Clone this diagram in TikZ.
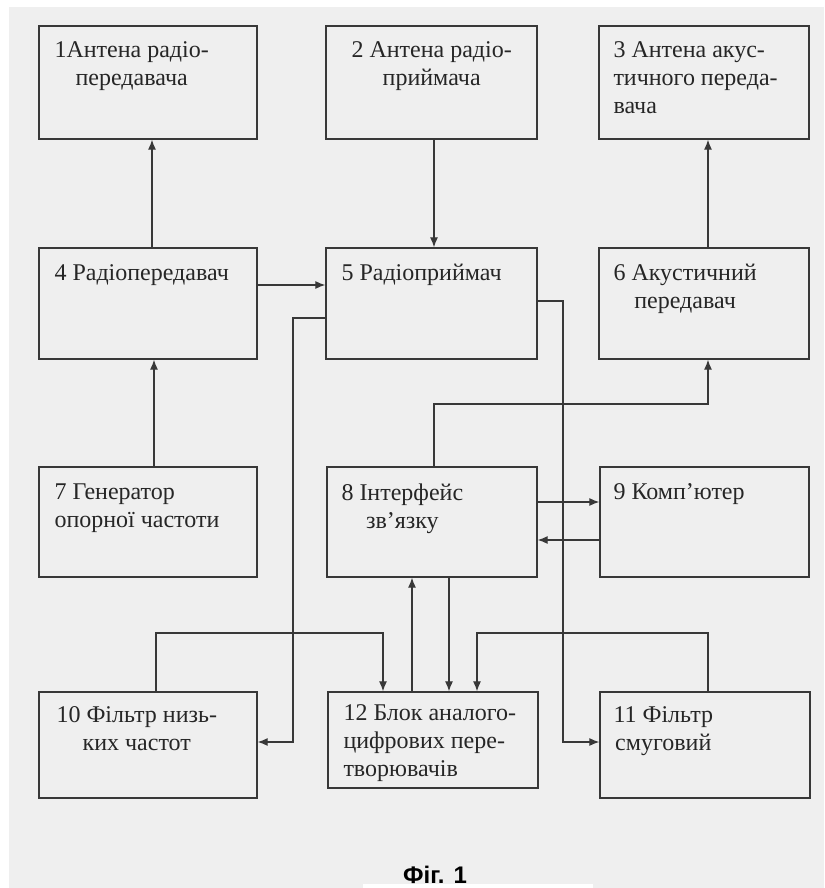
\documentclass[tikz,border=0pt]{standalone}
\usepackage{fontspec}
\setmainfont{Liberation Serif}
\newfontfamily\capfont{Liberation Sans}
\usetikzlibrary{arrows.meta,positioning,calc}
\definecolor{paper}{HTML}{EFEFEF}
\definecolor{ink}{HTML}{383838}
\definecolor{txt}{HTML}{262626}
\tikzset{
block/.style={draw=ink,line width=1.4pt,inner sep=0pt},
lbl/.style={anchor=north west,inner sep=0pt,text=txt,font=\fontsize{24}{28}\selectfont},
flow/.style={-{Latex[length=10pt,width=8pt]},line width=1.1pt,draw=ink},
caption/.style={font=\capfont\bfseries\fontsize{24}{28}\selectfont,text=black}}

\begin{document}
\begin{tikzpicture}[x=1pt,y=-1pt]
\useasboundingbox (0,0) rectangle (824,888);
\fill[white] (0,0) rectangle (824,888);
\fill[paper] (9,7) rectangle (824,888);
\fill[white] (363,884) rectangle (593,888);
% boxes
\node[block,minimum width=218pt,minimum height=113pt] (b1) at (148,82.5) {};
\node[block,minimum width=211pt,minimum height=113pt] (b2) at (431.5,82.5) {};
\node[block,minimum width=210pt,minimum height=113pt] (b3) at (704,82.5) {};
\node[block,minimum width=218pt,minimum height=111pt] (b4) at (148,303.5) {};
\node[block,minimum width=211pt,minimum height=111pt] (b5) at (431.5,303.5) {};
\node[block,minimum width=210pt,minimum height=111pt] (b6) at (704,303.5) {};
\node[block,minimum width=218pt,minimum height=110pt] (b7) at (148,522) {};
\node[block,minimum width=210pt,minimum height=110pt] (b8) at (432,522) {};
\node[block,minimum width=209pt,minimum height=110pt] (b9) at (704.5,522) {};
\node[block,minimum width=218pt,minimum height=106pt] (b10) at (148,745) {};
\node[block,minimum width=210pt,minimum height=96pt] (b12) at (433,740) {};
\node[block,minimum width=210pt,minimum height=106pt] (b11) at (705,745) {};
% texts
\node[lbl,align=center] (t1) at ($(b1.north west)+(16,16)$) {1Антена радіо-\\передавача};
\node[lbl,align=center] (t2) at ($(b2.north west)+(26,16)$) {2 Антена радіо-\\приймача};
\node[lbl,align=left] (t3) at ($(b3.north west)+(15,16)$) {3 Антена акус-\\тичного переда-\\вача};
\node[lbl,align=left] (t4) at ($(b4.north west)+(16,17)$) {4 Радіопередавач};
\node[lbl,align=left] (t5) at ($(b5.north west)+(16,17)$) {5 Радіоприймач};
\node[lbl,align=center] (t6) at ($(b6.north west)+(15,17)$) {6 Акустичний\\передавач};
\node[lbl,align=left] (t7) at ($(b7.north west)+(16,17)$) {7 Генератор\\опорної частоти};
\node[lbl,align=center] (t8) at ($(b8.north west)+(15,17)$) {8 Інтерфейс\\зв’язку};
\node[lbl,align=left] (t9) at ($(b9.north west)+(14,17)$) {9 Комп’ютер};
\node[lbl,align=center] (t10) at ($(b10.north west)+(18,15)$) {10 Фільтр низь-\\ких частот};
\node[lbl,align=left] (t12) at ($(b12.north west)+(16,13)$) {12 Блок аналого-\\цифрових пере-\\творювачів};
\node[lbl,align=center] (t11) at ($(b11.north west)+(14,15)$) {11 Фільтр\\смуговий};
% links
\draw[flow] ([xshift=4pt]b4.north) -- ([xshift=4pt]b1.south);
\draw[flow] ([xshift=2.5pt]b2.south) -- ([xshift=2.5pt]b5.north);
\draw[flow] ([xshift=4pt]b6.north) -- ([xshift=4pt]b3.south);
\draw[flow] ([xshift=6pt]b7.north) -- ([xshift=6pt]b4.south);
\draw[flow] (b4.east |- 0,285) -- (b5.west |- 0,285);
\draw[flow] (b5.west |- 0,318) -| (293,742) -- (b10.east |- 0,742);
\draw[flow] (b5.east |- 0,301) -| (563,742) -- (b11.west |- 0,742);
\draw[flow] (b8.north -| 434,0) |- (708,404) -- (b6.south -| 708,0);
\draw[flow] (b8.east |- 0,502) -- (b9.west |- 0,502);
\draw[flow] (b9.west |- 0,540) -- (b8.east |- 0,540);
\draw[flow] (b12.north -| 412,0) -- (b8.south -| 412,0);
\draw[flow] (b8.south -| 449,0) -- (b12.north -| 449,0);
\draw[flow] (b10.north -| 156,0) |- (383,633) -- (b12.north -| 383,0);
\draw[flow] (b11.north -| 708,0) |- (477,633) -- (b12.north -| 477,0);
\node[caption] (cap) at (435,875) {Фіг. 1};
\end{tikzpicture}
\end{document}
